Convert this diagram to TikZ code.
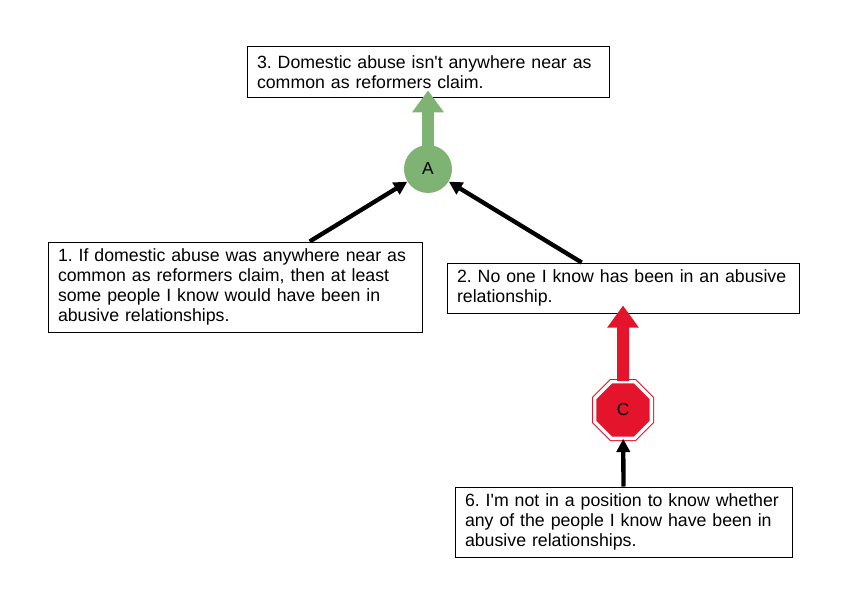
\documentclass[tikz,border=0pt]{standalone}
\usepackage{fontspec}
\setmainfont{Liberation Sans}
\usetikzlibrary{arrows.meta,shapes.geometric}
\definecolor{supportc}{HTML}{7FB373}
\definecolor{conflictc}{HTML}{E3142C}
\frenchspacing

\begin{document}
\begin{tikzpicture}[x=0.75pt, y=-0.75pt,
  claim/.style={draw=black, line width=0.75pt, align=left, inner xsep=7.5pt, inner ysep=0pt,
    font=\fontsize{13.3}{15}\selectfont},
  blk/.style={line width=3.25pt, -{Triangle[length=10pt, width=10pt]}},
  bigarrow/.style={line width=9pt, -{Triangle[length=16.5pt, width=23pt]}}]
  \useasboundingbox (0,0) rectangle (848,606);
  % claims
  \node[claim, text width=256.5pt, minimum height=38.25pt] (b3) at (428,72.5)
    {3. Domestic abuse isn\textquotesingle t anywhere near as\\common as reformers claim.};
  \node[claim, text width=265.5pt, minimum height=67.5pt] (b1) at (235,287)
    {1. If domestic abuse was anywhere near as\\common as reformers claim, then at least\\some people I know would have been in\\abusive relationships.};
  \node[claim, text width=249pt, minimum height=37.5pt] (b2) at (623,288)
    {2. No one I know has been in an abusive\\relationship.};
  \node[claim, text width=237.75pt, minimum height=52.5pt] (b6) at (623.5,522)
    {6. I\textquotesingle m not in a position to know whether\\any of the people I know have been in\\abusive relationships.};
  % inference nodes
  \node[circle, fill=supportc, minimum size=36pt, inner sep=0pt, font=\fontsize{13}{15}\selectfont] (A) at (428,169) {A};
  \node[regular polygon, regular polygon sides=8, minimum size=46pt, inner sep=0pt,
    fill=conflictc, draw=conflictc, line width=0.75pt, double=white, double distance=2.5pt,
    font=\fontsize{13}{15}\selectfont] (C) at (623,410) {C};
  % links
  \draw[blk] ([xshift=56pt]b1.north) -- (A);
  \draw[blk] ([xshift=-31pt]b2.north) -- (A);
  \draw[bigarrow, supportc] ([yshift=-1pt]A.north) -- ([yshift=6pt]b3.south);
  \draw[bigarrow, conflictc, -{Triangle[length=16.5pt, width=22.5pt]}] (C.north) -- ([yshift=6pt]b2.south);
  \draw[blk] (b6.north) -- (C);
\end{tikzpicture}
\end{document}
